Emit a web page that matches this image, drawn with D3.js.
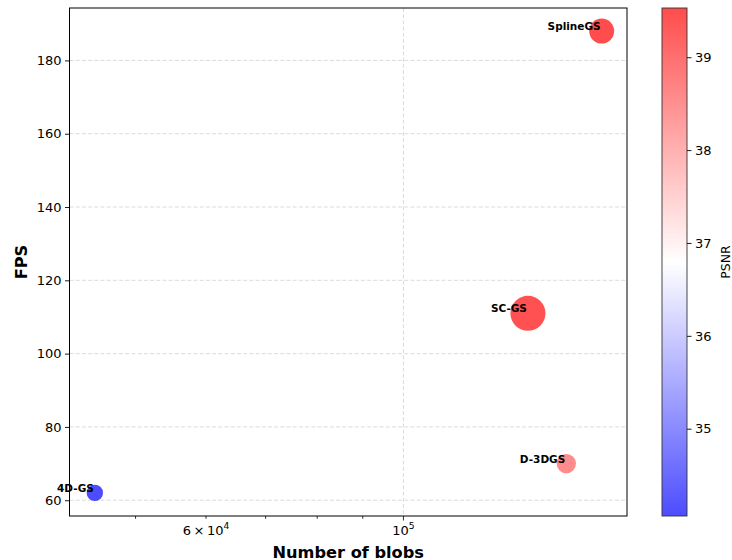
<!DOCTYPE html>
<html>
<head>
<meta charset="utf-8">
<script src="https://cdn.jsdelivr.net/npm/d3@7"></script>
<style>
  body { margin: 0; background: #fff; }
  svg { display: block; font-family: "DejaVu Sans", sans-serif; }
</style>
</head>
<body>
<svg id="chart" width="732" height="560"></svg>
<script>
// Methods compared: number of blobs vs. rendering speed, coloured by PSNR
const methods = ["4D-GS", "SC-GS", "D-3DGS", "SplineGS"];
const blobs = [45000, 138000, 152400, 167000];
const fps = [62, 111, 70, 188];
const psnr = [34.06, 39.45, 38.55, 39.53];
const markerArea = [67, 306, 94, 156];   // bubble area per method

const fpsTicks = [60, 80, 100, 120, 140, 160, 180];
const blobMajorTicks = [1e5];
const blobMinorTicks = [5e4, 6e4, 7e4, 8e4, 9e4];
const blobTickLabels = [[6e4, "6", 4], [1e5, null, 5]];  // [value, mantissa, exponent]
const psnrTicks = [35, 36, 37, 38, 39];

const rows = methods.map((m, i) => ({ name: m, blobs: blobs[i], fps: fps[i], psnr: psnr[i], area: markerArea[i] }));

const svg = d3.select("#chart");
const plot = { left: 69.5, right: 627, top: 8, bottom: 516 };
const cbar = { left: 662, right: 687 };
const tickFont = 13;

// 5% padding around the data, in log space for x
const lx = d3.extent(blobs).map(Math.log10);
const padX = (lx[1] - lx[0]) * 0.05;
const x = d3.scaleLog()
  .domain([Math.pow(10, lx[0] - padX), Math.pow(10, lx[1] + padX)])
  .range([plot.left, plot.right]);

const ey = d3.extent(fps);
const padY = (ey[1] - ey[0]) * 0.05;
const y = d3.scaleLinear()
  .domain([ey[0] - padY, ey[1] + padY])
  .range([plot.bottom, plot.top]);

const r = d3.scaleSqrt().domain([0, d3.max(markerArea)]).range([0, 17.5]);

// bwr colour map
const bwr = d3.scaleLinear().domain([0, 0.5, 1]).range(["#0000ff", "#ffffff", "#ff0000"]).interpolate(d3.interpolateRgb);
const pExt = d3.extent(psnr);
const cnorm = d3.scaleLinear().domain(pExt).range([0, 1]).clamp(true);
const color = v => bwr(cnorm(v));

// grid
const grid = svg.append("g").attr("stroke", "#b0b0b0").attr("stroke-opacity", 0.5)
  .attr("stroke-width", 0.9).attr("stroke-dasharray", "4,2.2");
grid.selectAll("line.h").data(fpsTicks).join("line")
  .attr("x1", plot.left).attr("x2", plot.right)
  .attr("y1", d => y(d)).attr("y2", d => y(d));
grid.selectAll("line.v").data(blobMajorTicks).join("line")
  .attr("y1", plot.top).attr("y2", plot.bottom)
  .attr("x1", d => x(d)).attr("x2", d => x(d));

// bubbles
svg.append("g").selectAll("circle").data(rows).join("circle")
  .attr("cx", d => x(d.blobs)).attr("cy", d => y(d.fps))
  .attr("r", d => r(d.area))
  .attr("fill", d => color(d.psnr)).attr("fill-opacity", 0.7);

// method labels
svg.append("g").selectAll("text").data(rows).join("text")
  .attr("x", d => x(d.blobs) - 1).attr("y", d => y(d.fps) - 4)
  .attr("text-anchor", "end").attr("dominant-baseline", "middle")
  .attr("font-size", 10.5).attr("font-weight", "bold").attr("fill", "#000")
  .text(d => d.name);

// y axis
const yAxis = d3.axisLeft(y).tickValues(fpsTicks).tickSize(4.5).tickPadding(3.5);
const gy = svg.append("g").attr("transform", `translate(${plot.left},0)`).call(yAxis);
gy.select(".domain").remove();
gy.selectAll("text").attr("font-size", tickFont).attr("font-family", "DejaVu Sans").attr("fill", "#000");
gy.selectAll("line").attr("stroke", "#000").attr("stroke-width", 0.9);

// x axis (log)
const gx = svg.append("g").attr("transform", `translate(0,${plot.bottom})`);
const xTick = (vals, len) => gx.selectAll(null).data(vals).join("line")
  .attr("x1", d => x(d)).attr("x2", d => x(d)).attr("y1", 0).attr("y2", len)
  .attr("stroke", "#000").attr("stroke-width", 0.8);
xTick(blobMajorTicks, 4.5);
xTick(blobMinorTicks, 2.8);
blobTickLabels.forEach(([v, mant, exp]) => {
  const t = gx.append("text").attr("x", x(v)).attr("y", 18.5)
    .attr("text-anchor", "middle").attr("font-size", tickFont).attr("fill", "#000");
  t.append("tspan").text(mant ? `${mant}\u2009\u00d7\u200910` : "10");
  t.append("tspan").attr("dy", -5.5).attr("font-size", 9.2).text(exp);
});

// frame
svg.append("rect").attr("x", plot.left).attr("y", plot.top)
  .attr("width", plot.right - plot.left).attr("height", plot.bottom - plot.top)
  .attr("fill", "none").attr("stroke", "#000").attr("stroke-width", 1);

// axis titles
svg.append("text").attr("x", (plot.left + plot.right) / 2).attr("y", 557.5)
  .attr("text-anchor", "middle").attr("font-size", 16.2).attr("font-weight", "bold")
  .text("Number of blobs");
svg.append("text").attr("transform", `translate(27,${(plot.top + plot.bottom) / 2}) rotate(-90)`)
  .attr("text-anchor", "middle").attr("font-size", 16.2).attr("font-weight", "bold")
  .text("FPS");

// colour bar
const defs = svg.append("defs");
const grad = defs.append("linearGradient").attr("id", "bwrGrad")
  .attr("x1", 0).attr("x2", 0).attr("y1", 1).attr("y2", 0);
d3.range(0, 1.0001, 0.05).forEach(t => {
  grad.append("stop").attr("offset", t).attr("stop-color", bwr(t)).attr("stop-opacity", 0.7);
});
svg.append("rect").attr("x", cbar.left).attr("y", plot.top)
  .attr("width", cbar.right - cbar.left).attr("height", plot.bottom - plot.top)
  .attr("fill", "url(#bwrGrad)").attr("stroke", "#333").attr("stroke-width", 0.9);

const cy = d3.scaleLinear().domain(pExt).range([plot.bottom, plot.top]);
const cAxis = d3.axisRight(cy).tickValues(psnrTicks).tickFormat(d3.format("d")).tickSize(4.5).tickPadding(3.5);
const gc = svg.append("g").attr("transform", `translate(${cbar.right},0)`).call(cAxis);
gc.select(".domain").remove();
gc.selectAll("text").attr("font-size", tickFont).attr("font-family", "DejaVu Sans").attr("fill", "#000");
gc.selectAll("line").attr("stroke", "#000").attr("stroke-width", 0.9);

svg.append("text").attr("transform", `translate(730,${(plot.top + plot.bottom) / 2}) rotate(-90)`)
  .attr("text-anchor", "middle").attr("font-size", 12.5).text("PSNR");
</script>
</body>
</html>
